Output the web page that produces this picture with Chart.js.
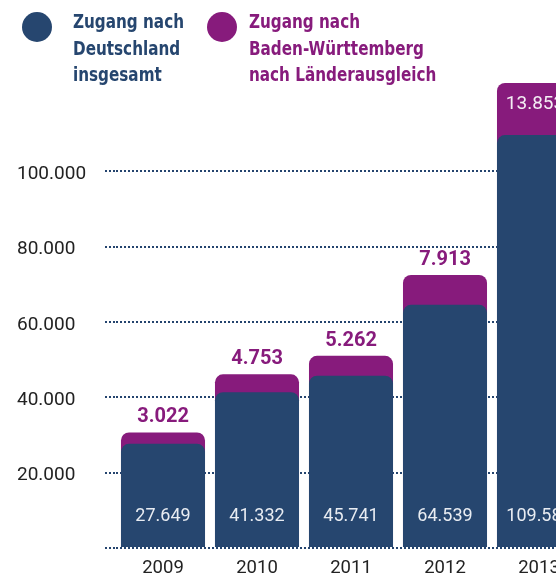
<!DOCTYPE html>
<html lang="de">
<head>
<meta charset="utf-8">
<script src="https://cdn.jsdelivr.net/npm/chart.js@4/dist/chart.umd.min.js"></script>
<style>
  html, body { margin: 0; padding: 0; background: #fff; overflow: hidden; }
  #wrap { position: relative; width: 586px; height: 576px; }
  #legende { position: absolute; left: 0; top: 0; width: 556px; height: 100px; pointer-events: none;
    font-family: "DejaVu Sans Condensed", "DejaVu Sans", sans-serif; font-weight: bold; font-size: 19px; line-height: 26.5px; }
  .punkt { position: absolute; top: 12px; width: 30px; height: 30px; border-radius: 50%; }
  .text { position: absolute; top: 8px; white-space: nowrap; transform: scaleX(0.89); transform-origin: 0 0; }
</style>
</head>
<body>
<div id="wrap">
  <canvas id="grafik" width="586" height="576"></canvas>
  <div id="legende">
    <div class="punkt" style="left:22px;background:#26466f"></div>
    <div class="text" style="left:73px;color:#26466f">Zugang nach<br>Deutschland<br>insgesamt</div>
    <div class="punkt" style="left:207px;background:#871b7c"></div>
    <div class="text" style="left:249px;color:#871b7c">Zugang nach<br>Baden-Württemberg<br>nach Länderausgleich</div>
  </div>
</div>
<script>
// Daten
const jahre = ['2009', '2010', '2011', '2012', '2013'];
const zugangDeutschland = [27649, 41332, 45741, 64539, 109580];
const zugangBW = [3022, 4753, 5262, 7913, 13853];
const yTicks = [0, 20000, 40000, 60000, 80000, 100000];

const BLAU = '#26466f';
const LILA = '#871b7c';

// Tausenderpunkt wie im Original
const fmt = v => String(v).replace(/\B(?=(\d{3})+(?!\d))/g, '.');

// Lila Balken liegt hinter dem blauen und reicht bis zur Summe
const gesamt = zugangDeutschland.map((v, i) => v + zugangBW[i]);

const werteLabels = {
  id: 'werteLabels',
  afterDatasetsDraw(chart) {
    const ctx = chart.ctx;
    const lila = chart.getDatasetMeta(0).data;
    const blau = chart.getDatasetMeta(1).data;
    const unten = chart.chartArea.bottom;
    ctx.save();
    ctx.textAlign = 'center';
    ctx.textBaseline = 'middle';
    blau.forEach((bar, i) => {
      ctx.font = '18px Roboto';
      ctx.fillStyle = '#e8ecf2';
      ctx.fillText(fmt(zugangDeutschland[i]), bar.x, unten - 32);

      const oben = lila[i];
      const hoehe = bar.y - oben.y;
      if (hoehe > 40) {
        ctx.font = '19px Roboto';
        ctx.fillStyle = '#f4eef4';
        ctx.fillText(fmt(zugangBW[i]), oben.x - 4, oben.y + 21);
      } else {
        ctx.font = 'bold 20px Roboto';
        ctx.fillStyle = LILA;
        ctx.fillText(fmt(zugangBW[i]), oben.x, oben.y - 15);
      }
    });
    ctx.restore();
  }
};

const ecken = { topLeft: 8, topRight: 8, bottomLeft: 0, bottomRight: 0 };

new Chart(document.getElementById('grafik'), {
  type: 'bar',
  data: {
    labels: jahre,
    datasets: [
      {
        label: 'Zugang nach Baden-Württemberg nach Länderausgleich',
        data: gesamt,
        backgroundColor: LILA,
        borderRadius: ecken,
        borderSkipped: false,
        grouped: false,
        order: 2
      },
      {
        label: 'Zugang nach Deutschland insgesamt',
        data: zugangDeutschland,
        backgroundColor: BLAU,
        borderRadius: ecken,
        borderSkipped: false,
        grouped: false,
        order: 1
      }
    ]
  },
  options: {
    responsive: false,
    animation: false,
    layout: { padding: { left: 17, top: 77, right: 0, bottom: 0 } },
    datasets: { bar: { categoryPercentage: 1, barPercentage: 0.894 } },
    plugins: { legend: { display: false }, tooltip: { enabled: false } },
    scales: {
      x: {
        grid: { display: false },
        border: { display: false },
        ticks: { color: '#222', font: { family: 'Roboto', size: 18.5 }, padding: 1 },
        afterFit: s => { s.height = 28; }
      },
      y: {
        min: 0,
        max: 125000,
        afterBuildTicks: s => { s.ticks = yTicks.map(v => ({ value: v })); },
        afterFit: s => { s.width = 99; },
        border: { display: false, dash: [2, 2] },
        grid: {
          color: '#24446e',
          lineWidth: 2,
          tickLength: 11,
          tickColor: '#24446e',
          tickWidth: 2,
          tickBorderDash: [2, 2]
        },
        ticks: {
          crossAlign: 'far',
          color: '#222',
          labelOffset: 3,
          font: { family: 'Roboto', size: 19 },
          callback: v => (v === 0 ? '' : fmt(v))
        }
      }
    }
  },
  plugins: [werteLabels]
});
</script>
</body>
</html>
